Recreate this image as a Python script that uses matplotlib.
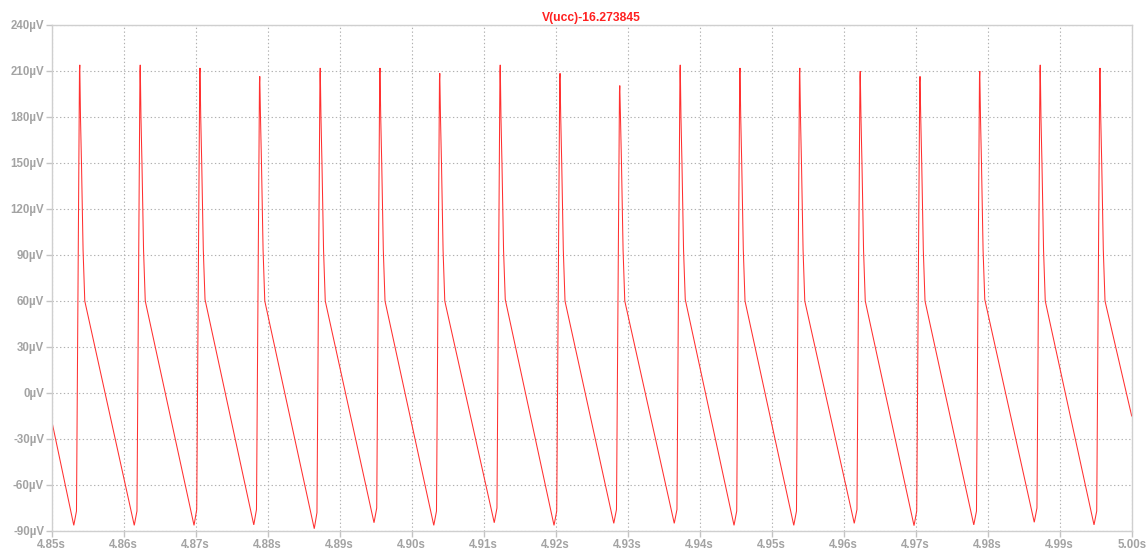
import numpy as np
import matplotlib
matplotlib.use("Agg")
import matplotlib.pyplot as plt
from matplotlib.ticker import FixedLocator, FixedFormatter

# --- trace data (µV, seconds) ---
spike_times = [4.8539, 4.8623, 4.8706, 4.8789, 4.8873, 4.8956, 4.9039, 4.9123, 4.9206,
               4.9289, 4.9373, 4.9456, 4.9539, 4.9623, 4.9706, 4.9789, 4.9873, 4.9956]
peak_uv = [214, 214, 212, 206.5, 212, 212, 208.5, 214, 208.5,
           200.5, 214, 212, 212, 210, 206.5, 210, 214, 212]
trough_uv = [-86.3, -86.3, -86.3, -86, -88.5, -84.6, -86.3, -84.6, -86.3,
             -85, -85, -86.3, -86.3, -85, -86.5, -86, -84.3, -86]
step_uv = [-77, -77, -76, -76, -78, -75, -77, -75, -77,
           -76, -76, -77, -77, -76, -77, -77, -75, -77]
shoulder_uv = [60, 60, 61, 60, 60, 60, 60, 61, 60,
               60, 61, 60, 60, 60, 60, 61, 60, 60]
start_uv = -18
end_uv = -15

t_start, t_end = 4.85, 5.00
x_ticks = [4.85, 4.86, 4.87, 4.88, 4.89, 4.90, 4.91, 4.92, 4.93, 4.94,
           4.95, 4.96, 4.97, 4.98, 4.99, 5.00]
x_labels = ["4.85s", "4.86s", "4.87s", "4.88s", "4.89s", "4.90s", "4.91s", "4.92s",
            "4.93s", "4.94s", "4.95s", "4.96s", "4.97s", "4.98s", "4.99s", "5.00s"]
y_ticks = [-90, -60, -30, 0, 30, 60, 90, 120, 150, 180, 210, 240]
y_labels = ["-90µV", "-60µV", "-30µV", "0µV", "30µV", "60µV", "90µV", "120µV",
            "150µV", "180µV", "210µV", "240µV"]
title = "V(ucc)-16.273845"

# --- assemble the piecewise waveform of each cycle ---
dt = 1.0 / 7200.0  # shape timing unit
t_pts = [t_start]
v_pts = [start_uv]
for ts, pk, tr, st, sh in zip(spike_times, peak_uv, trough_uv, step_uv, shoulder_uv):
    t_pts += [ts - 6 * dt, ts - 3.3 * dt, ts - 0.3 * dt, ts,
              ts + 0.7 * dt, ts + 1.7 * dt, ts + 3.3 * dt, ts + 5 * dt]
    v_pts += [tr, st, pk - 4, pk,
              180, 150, 93, sh]
t_pts.append(t_end)
v_pts.append(end_uv)

plt.rcParams["font.family"] = ["Liberation Sans", "DejaVu Sans"]

fig = plt.figure(figsize=(11.48, 5.52), dpi=100)
ax = fig.add_axes([51.7 / 1148, 1 - 531 / 552, 1080 / 1148, 506 / 552])

ax.plot(t_pts, v_pts, color="#ff3030", lw=0.75, solid_joinstyle="miter")

ax.set_xlim(t_start, t_end)
ax.set_ylim(-90, 240)

ax.xaxis.set_major_locator(FixedLocator(x_ticks))
ax.xaxis.set_major_formatter(FixedFormatter(x_labels))
ax.yaxis.set_major_locator(FixedLocator(y_ticks))
ax.yaxis.set_major_formatter(FixedFormatter(y_labels))

grid_c = "#b0b0b0"
ax.grid(True, color=grid_c, linestyle=(0, (1.2, 2.2)), lw=0.8)
for s in ax.spines.values():
    s.set_color("#cfcfcf")
    s.set_linewidth(1.0)

ax.tick_params(axis="both", direction="out", length=4, width=1, color="#c4c4c4",
               labelcolor="#a3a3a3", labelsize=8.3, pad=1.5)
for lab in ax.get_xticklabels() + ax.get_yticklabels():
    lab.set_fontweight("bold")

ax.set_title(title, color="#ff2020", fontsize=8.7, fontweight="bold", pad=3)

fig.savefig("out.png", dpi=100)
